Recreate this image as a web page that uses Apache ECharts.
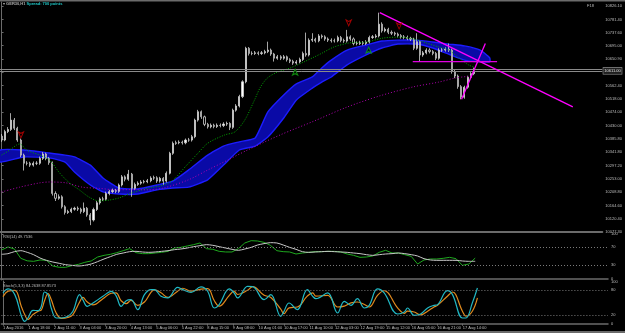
<!DOCTYPE html>
<html>
<head>
<meta charset="utf-8">
<script src="https://cdn.jsdelivr.net/npm/echarts@6/dist/echarts.min.js"></script>
<style>
html, body { margin: 0; padding: 0; background: #000; }
#chart { width: 625px; height: 333px; }
</style>
</head>
<body>
<div id="chart"></div>
<script>
// hourly bars, left to right
const opens = [
  10395, 10382, 10410, 10417, 10448, 10421, 10382, 10332, 10305, 10305,
  10299, 10305, 10305, 10321, 10336, 10321, 10307, 10205, 10189, 10194,
  10161, 10142, 10145, 10153, 10156, 10153, 10145, 10156, 10134, 10117,
  10152, 10174, 10187, 10186, 10205, 10211, 10215, 10212, 10233, 10260,
  10252, 10269, 10222, 10235, 10239, 10243, 10244, 10247, 10256, 10257,
  10246, 10255, 10246, 10272, 10338, 10371, 10373, 10375, 10373, 10382,
  10382, 10393, 10448, 10476, 10459, 10434, 10426, 10431, 10427, 10431,
  10430, 10435, 10437, 10424, 10481, 10495, 10526, 10575, 10686, 10669,
  10669, 10671, 10669, 10671, 10675, 10680, 10667, 10653, 10658, 10653,
  10658, 10648, 10643, 10637, 10641, 10649, 10669, 10664, 10713, 10716,
  10711, 10727, 10724, 10717, 10713, 10711, 10711, 10722, 10712, 10710,
  10724, 10717, 10702, 10702, 10705, 10702, 10707, 10722, 10724, 10727,
  10766, 10744, 10749, 10739, 10736, 10733, 10728, 10724, 10722, 10719,
  10716, 10686, 10708, 10664, 10671, 10680, 10675, 10669, 10653, 10680,
  10680, 10683, 10680, 10609, 10594, 10559, 10524, 10557, 10590, 10602
]
const closes = [
  10382, 10410, 10417, 10448, 10421, 10382, 10332, 10305, 10305, 10299,
  10305, 10305, 10321, 10336, 10321, 10307, 10205, 10189, 10194, 10161,
  10142, 10145, 10153, 10156, 10153, 10145, 10156, 10134, 10117, 10152,
  10174, 10187, 10186, 10205, 10211, 10215, 10212, 10233, 10260, 10252,
  10269, 10222, 10235, 10239, 10243, 10244, 10247, 10256, 10257, 10246,
  10255, 10246, 10272, 10338, 10371, 10373, 10375, 10373, 10382, 10382,
  10393, 10448, 10476, 10459, 10434, 10426, 10431, 10427, 10431, 10430,
  10435, 10437, 10424, 10481, 10495, 10526, 10575, 10686, 10669, 10669,
  10671, 10669, 10671, 10675, 10680, 10667, 10653, 10658, 10653, 10658,
  10648, 10643, 10637, 10641, 10649, 10669, 10664, 10713, 10716, 10711,
  10727, 10724, 10717, 10713, 10711, 10711, 10722, 10712, 10710, 10724,
  10717, 10702, 10702, 10705, 10702, 10707, 10722, 10724, 10727, 10766,
  10744, 10749, 10739, 10736, 10733, 10728, 10724, 10722, 10719, 10716,
  10686, 10708, 10664, 10671, 10680, 10675, 10669, 10653, 10680, 10680,
  10683, 10680, 10609, 10594, 10559, 10524, 10557, 10590, 10602, 10611
]
const highs = [
  10402, 10416, 10425, 10471, 10455, 10426, 10387, 10337, 10312, 10310,
  10311, 10312, 10327, 10342, 10340, 10326, 10311, 10212, 10202, 10199,
  10166, 10151, 10158, 10161, 10162, 10158, 10175, 10160, 10140, 10158,
  10180, 10192, 10194, 10211, 10217, 10221, 10220, 10238, 10266, 10265,
  10283, 10273, 10241, 10245, 10249, 10250, 10253, 10262, 10264, 10262,
  10260, 10259, 10278, 10343, 10377, 10380, 10381, 10380, 10387, 10389,
  10399, 10453, 10482, 10480, 10463, 10439, 10437, 10436, 10437, 10437,
  10441, 10443, 10441, 10486, 10501, 10532, 10580, 10691, 10690, 10676,
  10677, 10676, 10677, 10681, 10708, 10685, 10671, 10664, 10663, 10664,
  10662, 10653, 10648, 10647, 10655, 10675, 10738, 10719, 10736, 10721,
  10733, 10732, 10729, 10722, 10719, 10718, 10728, 10727, 10718, 10747,
  10729, 10722, 10709, 10711, 10710, 10713, 10728, 10730, 10733, 10804,
  10772, 10755, 10754, 10745, 10741, 10738, 10733, 10730, 10728, 10724,
  10721, 10736, 10713, 10677, 10686, 10686, 10680, 10674, 10686, 10687,
  10689, 10702, 10685, 10614, 10599, 10564, 10562, 10595, 10607, 10622
]
const lows = [
  10376, 10378, 10405, 10412, 10415, 10376, 10325, 10281, 10298, 10293,
  10294, 10299, 10300, 10316, 10315, 10300, 10198, 10180, 10184, 10155,
  10135, 10137, 10140, 10148, 10147, 10138, 10140, 10128, 10100, 10112,
  10147, 10168, 10180, 10181, 10199, 10206, 10206, 10207, 10228, 10245,
  10247, 10194, 10216, 10230, 10234, 10238, 10239, 10242, 10250, 10240,
  10241, 10233, 10241, 10268, 10333, 10366, 10368, 10367, 10368, 10376,
  10377, 10388, 10443, 10452, 10428, 10420, 10421, 10421, 10422, 10424,
  10425, 10429, 10415, 10419, 10476, 10490, 10521, 10570, 10662, 10663,
  10664, 10663, 10664, 10666, 10670, 10661, 10642, 10648, 10647, 10648,
  10642, 10637, 10631, 10632, 10636, 10644, 10658, 10659, 10707, 10705,
  10706, 10718, 10711, 10707, 10705, 10705, 10706, 10706, 10704, 10705,
  10711, 10696, 10696, 10697, 10696, 10697, 10702, 10717, 10719, 10722,
  10738, 10739, 10733, 10730, 10727, 10722, 10718, 10716, 10713, 10710,
  10680, 10681, 10642, 10658, 10666, 10669, 10663, 10647, 10648, 10674,
  10675, 10674, 10602, 10587, 10552, 10517, 10519, 10552, 10585, 10597
]

// moving averages (bar index, price)
const greenX = [0, 2.6, 4.8, 5.75, 7.9, 12, 15.1, 18.3, 21.4, 24.5, 27.6, 30.75, 33.9, 37, 41.1, 46.4, 51.1, 54.2, 57.9, 62, 65.1, 70.4, 73.6, 76.7, 79.8, 81.7, 83.9, 87, 91.1, 95.4, 98.6, 101.1, 104.8, 109.8, 115.1, 120.4, 125.4, 129.8, 133.9, 137.9, 141.1, 144.2, 147.3, 148.9]
const greenY = [10332, 10349, 10366, 10369, 10349, 10332, 10316, 10273, 10240, 10217, 10193, 10180, 10183, 10190, 10207, 10223, 10233, 10250, 10293, 10339, 10372, 10399, 10409, 10448, 10515, 10558, 10588, 10607, 10621, 10641, 10657, 10670, 10690, 10704, 10707, 10720, 10723, 10717, 10704, 10690, 10680, 10654, 10631, 10624]
const purpleX = [0, 5.75, 12, 15.1, 20.4, 25.4, 30.75, 36.1, 41.1, 46.4, 51.1, 58.9, 65.1, 71.4, 77.6, 87.9, 98.6, 108.9, 119.2, 129.8, 137.9, 143.3, 148.3]
const purpleY = [10210, 10226, 10240, 10243, 10240, 10226, 10222, 10217, 10218, 10217, 10223, 10250, 10283, 10316, 10349, 10399, 10445, 10491, 10528, 10558, 10574, 10588, 10594]

// blue ribbon, upper and lower edge
const bandX = [-0.5, 7, 15, 20, 23, 28, 32, 37, 43, 49, 54, 59, 65, 70, 75, 80, 84, 89, 93, 98, 101, 104, 109, 115, 120, 125, 131, 136, 141, 146, 151, 154]
const bandTop = [10349, 10349, 10339, 10332, 10326, 10299, 10256, 10223, 10220, 10233, 10246, 10283, 10332, 10362, 10376, 10389, 10475, 10531, 10568, 10591, 10621, 10647, 10680, 10697, 10710, 10713, 10713, 10707, 10700, 10694, 10680, 10654]
const bandBot = [10309, 10326, 10323, 10309, 10276, 10233, 10210, 10203, 10203, 10217, 10223, 10226, 10250, 10299, 10349, 10362, 10392, 10455, 10515, 10554, 10574, 10591, 10631, 10664, 10687, 10700, 10700, 10687, 10667, 10647, 10641, 10641]

// drawn objects
const trendDownX = [119.3, 180.2]
const trendDownY = [10804, 10492]
const trendUpX = [145.1, 152.6]
const trendUpY = [10517, 10702]
const levelX = [129.7, 156.3]
const levelY = [10642, 10642]
const bidPrice = 10611
const askPrice = 10618
const redArrowsX = [6.1, 109.5, 125.4]
const redArrowsY = [10389, 10760, 10750]
const greenArrowsX = [92.6, 115.8]
const greenArrowsY = [10617, 10690]

// RSI, one value every 2 bars
const rsiStep = 2
const rsiMain = [64, 70.7, 66.2, 45.5, 39.9, 38.8, 41.8, 41, 28.4, 25.5, 25.5, 29.2, 32.1, 36.6, 39.6, 48.4, 52.1, 54.4, 58.1, 62.5, 67, 58.1, 55.9, 55.9, 57.3, 58.8, 61, 68.4, 69.9, 72.9, 75.9, 79.6, 67, 65.5, 61, 59.6, 59.6, 67, 79.6, 84.7, 84, 81, 74.4, 62.5, 60.3, 59.6, 55.1, 57.3, 58.8, 60.3, 60.3, 61, 61, 59.6, 55.1, 52.1, 47.7, 48.4, 50.7, 58.8, 63.3, 57.3, 57.3, 53.6, 49.9, 32.9, 41.8, 44, 44, 45.5, 47.7, 44.7, 29.9, 32.9, 46]
const rsiAvg = [54.4, 55.9, 60.3, 62.5, 58.8, 53.6, 46.2, 41, 37.3, 34.4, 31.4, 29.9, 28.4, 29.9, 32.9, 38.1, 44, 49.2, 54.4, 57.3, 60.3, 61, 59.6, 58.8, 59.6, 61, 62.5, 64.7, 66.2, 68.4, 71.4, 73.6, 75.9, 74.4, 71.4, 68.4, 65.5, 63.3, 66.2, 69.9, 75.1, 78.1, 80.3, 79.6, 75.1, 69.9, 65.5, 60.3, 58.8, 59.6, 60.3, 61, 60.3, 59.6, 58.8, 57.3, 55.9, 53.6, 52.1, 53.6, 55.1, 55.9, 57.3, 55.9, 53.6, 50.7, 44.7, 41.8, 41, 41, 41, 41, 39.6, 38.8, 38.8]

// stochastic, at its turning points
const stochX = [0, 1.6, 3.7, 5.8, 6.8, 7.8, 9.4, 11, 12, 13, 14.1, 15.1, 16.7, 18.3, 20.3, 21.9, 24, 25, 26.4, 28.2, 31.3, 33.9, 35.4, 37, 38.6, 40.1, 42.2, 44.3, 46.4, 47.4, 49.5, 51.6, 54.7, 56.3, 58.9, 62, 64.1, 66.2, 67.7, 70.9, 72.4, 73.5, 76.6, 78.2, 81.8, 83.9, 87, 88, 89.6, 92.2, 95.3, 97, 98, 101.7, 104.8, 106.9, 109, 111, 113.2, 114.7, 117.3, 119.4, 123.6, 125.7, 126.7, 128.8, 130.8, 133, 135, 136.1, 139.2, 140.8, 143.9, 145, 147, 148.6]
const stochMain = [73.7, 83.3, 69.7, 17.7, 5.7, 13.7, 32, 31.3, 41.7, 76, 69.7, 37.7, 13.7, 13.7, 17.7, 29.7, 69.7, 57.7, 41.7, 49.7, 65.7, 77.7, 67.3, 41.7, 55.3, 57.7, 33.7, 69.7, 81.7, 81.7, 65.7, 61.7, 87.3, 81.7, 75.3, 88.1, 77.7, 37.7, 45.7, 83.3, 73.7, 61.7, 89.7, 88.9, 57.7, 69.7, 17.7, 29.7, 49.7, 33.7, 81.7, 65.7, 60.1, 73.7, 25.7, 53.7, 44.1, 60.1, 37.7, 44.1, 83.3, 73.7, 23.3, 28.1, 37.7, 20.1, 23.3, 37.7, 44.1, 45.7, 79.3, 69.7, 13.7, 13.7, 49.7, 85.7]
const stochSignal = [65, 78, 80, 40, 22, 10, 22, 30, 33, 55, 72, 58, 25, 13, 15, 22, 52, 63, 52, 45, 60, 73, 74, 55, 48, 56, 44, 52, 76, 81, 74, 63, 78, 85, 78, 83, 84, 55, 42, 68, 78, 70, 80, 89, 68, 63, 35, 24, 38, 40, 66, 74, 66, 68, 40, 42, 50, 52, 46, 40, 68, 79, 38, 25, 30, 28, 21, 30, 40, 44, 66, 76, 30, 18, 30, 62]

// axes
const slotCount = 190
const barsPerLabel = 8
const timeLabels = ['1 Aug 2016', '1 Aug 18:00', '2 Aug 11:00', '3 Aug 04:00', '3 Aug 20:00', '4 Aug 13:00', '5 Aug 06:00', '5 Aug 22:00', '8 Aug 15:00', '9 Aug 08:00', '10 Aug 01:00', '10 Aug 17:00', '11 Aug 10:00', '12 Aug 03:00', '12 Aug 19:00', '15 Aug 12:00', '16 Aug 05:00', '16 Aug 21:00', '17 Aug 14:00']
const priceTicks = [10826.10, 10781.40, 10737.60, 10695.00, 10650.90, 10606.40, 10562.40, 10518.00, 10474.00, 10430.00, 10385.80, 10341.80, 10297.20, 10253.00, 10208.80, 10164.60, 10120.40, 10077.30]
const rsiTicks = [100, 70, 30, 0]
const rsiLevels = [70, 30]
const stochTicks = [100, 80, 20, 0]
const stochLevels = [80, 20]

const FONT = 'Liberation Sans, DejaVu Sans, sans-serif'
const GRAY = '#6b6b6b'
const TXT = '#bdbdbd'

const slots = Array.from({ length: slotCount }, () => '')
const candles = opens.map((o, i) => [o, closes[i], lows[i], highs[i]])
const pairs = (xs, ys) => xs.map((x, i) => [x, ys[i]])
const labelIdx = timeLabels.map((_, k) => k * barsPerLabel)

const levelLines = (vals) => ({
  silent: true,
  symbol: 'none',
  label: { show: false },
  lineStyle: { color: '#7a7a7a', type: [1, 2], width: 1 },
  data: vals.map(v => ({ yAxis: v }))
})

const chart = echarts.init(document.getElementById('chart'))

chart.setOption({
  backgroundColor: '#000000',
  animation: false,
  title: [
    {
      text: '{a|▾ GER30,H1} {b|Spread: 700 points}',
      left: 3, top: 2, padding: 0,
      textStyle: {
        fontSize: 4,
        rich: {
          a: { color: '#b0b0b0', fontSize: 4, fontFamily: FONT },
          b: { color: '#1fc8c8', fontSize: 4, fontFamily: FONT }
        }
      }
    },
    { text: 'F18', left: 587, top: 4, padding: 0, textStyle: { color: TXT, fontSize: 4, fontWeight: 'normal', fontFamily: FONT } },
    { text: 'RSI(14) 49.7536', left: 3, top: 235, padding: 0, textStyle: { color: TXT, fontSize: 4, fontWeight: 'normal', fontFamily: FONT } },
    { text: 'Stoch(5,3,3) 84.2638 87.8573', left: 3, top: 284, padding: 0, textStyle: { color: TXT, fontSize: 4, fontWeight: 'normal', fontFamily: FONT } }
  ],
  graphic: [
    { type: 'rect', left: 0, top: 0, shape: { width: 625, height: 1.5 }, style: { fill: GRAY }, silent: true },
    { type: 'rect', left: 0, top: 331, shape: { width: 625, height: 2 }, style: { fill: GRAY }, silent: true }
  ],
  grid: [
    { left: 0, right: 17, top: 2, height: 230 },
    { left: 0, right: 17, top: 232.5, height: 47.5 },
    { left: 0, right: 17, top: 281, height: 43.5 }
  ],
  xAxis: [
    {
      type: 'category', gridIndex: 0, data: slots, boundaryGap: true,
      axisLine: { lineStyle: { color: GRAY, width: 2 } },
      axisTick: { show: false }, axisLabel: { show: false }, splitLine: { show: false }
    },
    { type: 'value', gridIndex: 0, min: -0.5, max: slotCount - 0.5, show: false },
    {
      type: 'value', gridIndex: 1, min: -0.5, max: slotCount - 0.5,
      axisLine: { lineStyle: { color: GRAY, width: 1.5 } },
      axisTick: { show: false }, axisLabel: { show: false }, splitLine: { show: false }
    },
    {
      type: 'value', gridIndex: 2, min: -0.5, max: slotCount - 0.5,
      axisLine: { lineStyle: { color: GRAY, width: 1.5 } },
      axisTick: { customValues: labelIdx, length: 2, lineStyle: { color: GRAY } },
      axisLabel: {
        customValues: labelIdx,
        formatter: v => timeLabels[Math.round(v / barsPerLabel)] || '',
        align: 'left', margin: 1.5, color: TXT, fontSize: 4, fontFamily: FONT
      },
      splitLine: { show: false }
    }
  ],
  yAxis: [
    {
      type: 'value', gridIndex: 0, position: 'right', min: 10077.3, max: 10839.4, scale: true,
      axisLine: { show: true, lineStyle: { color: GRAY, width: 1 } },
      axisTick: { show: true, customValues: priceTicks, length: 2, lineStyle: { color: GRAY } },
      axisLabel: { customValues: priceTicks, formatter: v => v.toFixed(2), margin: 3, color: TXT, fontSize: 4, fontFamily: FONT },
      splitLine: { show: false }
    },
    {
      type: 'value', gridIndex: 1, position: 'right', min: -2.7, max: 102.9,
      axisLine: { show: true, lineStyle: { color: GRAY, width: 1 } },
      axisTick: { show: true, customValues: rsiTicks, length: 2, lineStyle: { color: GRAY } },
      axisLabel: { customValues: rsiTicks, margin: 3, color: TXT, fontSize: 4, fontFamily: FONT },
      splitLine: { show: false }
    },
    {
      type: 'value', gridIndex: 2, position: 'right', min: -1.9, max: 102.4,
      axisLine: { show: true, lineStyle: { color: GRAY, width: 1 } },
      axisTick: { show: true, customValues: stochTicks, length: 2, lineStyle: { color: GRAY } },
      axisLabel: { customValues: stochTicks, margin: 3, color: TXT, fontSize: 4, fontFamily: FONT },
      splitLine: { show: false }
    }
  ],
  series: [
    {
      name: 'ribbon', type: 'custom', xAxisIndex: 1, yAxisIndex: 0, z: 1, silent: true,
      data: [[bandX[0], bandTop[0]]],
      renderItem: function (params, api) {
        const pts = []
        for (let i = 0; i < bandX.length; i++) pts.push(api.coord([bandX[i], bandTop[i]]))
        for (let i = bandX.length - 1; i >= 0; i--) pts.push(api.coord([bandX[i], bandBot[i]]))
        return {
          type: 'polygon',
          shape: { points: pts, smooth: 0.15 },
          style: { fill: '#0a0aa6', stroke: '#1c1cff', lineWidth: 1.4 }
        }
      }
    },
    {
      name: 'price', type: 'candlestick', xAxisIndex: 0, yAxisIndex: 0, z: 3,
      data: candles, barWidth: 1.6,
      itemStyle: { color: '#ffffff', color0: '#000000', borderColor: '#cfcfcf', borderColor0: '#cfcfcf', borderWidth: 0.8 },
      markLine: {
        silent: true, symbol: 'none',
        lineStyle: { color: '#8a8a8a', type: 'solid', width: 1 },
        data: [
          { yAxis: bidPrice, label: { show: true, position: 'end', distance: 1, formatter: p => p.value.toFixed(2), color: '#e0e0e0', backgroundColor: '#202020', borderColor: '#9a9a9a', borderWidth: 0.6, padding: [1, 1], fontSize: 4, fontFamily: FONT } },
          { yAxis: askPrice, label: { show: false } }
        ]
      }
    },
    {
      name: 'ma green', type: 'line', xAxisIndex: 1, yAxisIndex: 0, z: 4,
      data: pairs(greenX, greenY), smooth: 0.3, showSymbol: false, silent: true,
      lineStyle: { color: '#00a800', width: 1, type: [1, 1.5] }
    },
    {
      name: 'ma purple', type: 'line', xAxisIndex: 1, yAxisIndex: 0, z: 4,
      data: pairs(purpleX, purpleY), smooth: 0.3, showSymbol: false, silent: true,
      lineStyle: { color: '#b000b0', width: 1, type: [1, 2] }
    },
    {
      name: 'trend down', type: 'line', xAxisIndex: 1, yAxisIndex: 0, z: 5,
      data: pairs(trendDownX, trendDownY), showSymbol: false, silent: true,
      lineStyle: { color: '#ff00ff', width: 1.3 }
    },
    {
      name: 'trend up', type: 'line', xAxisIndex: 1, yAxisIndex: 0, z: 5,
      data: pairs(trendUpX, trendUpY), showSymbol: false, silent: true,
      lineStyle: { color: '#ff00ff', width: 1.3 }
    },
    {
      name: 'level', type: 'line', xAxisIndex: 1, yAxisIndex: 0, z: 5,
      data: pairs(levelX, levelY), showSymbol: false, silent: true,
      lineStyle: { color: '#e000e0', width: 1.3 }
    },
    {
      name: 'down arrows', type: 'scatter', xAxisIndex: 1, yAxisIndex: 0, z: 6,
      data: pairs(redArrowsX, redArrowsY), silent: true,
      symbol: 'arrow', symbolRotate: 180, symbolSize: [4, 6],
      itemStyle: { color: '#000000', borderColor: '#d00000', borderWidth: 1 }
    },
    {
      name: 'up arrows', type: 'scatter', xAxisIndex: 1, yAxisIndex: 0, z: 6,
      data: pairs(greenArrowsX, greenArrowsY), silent: true,
      symbol: 'arrow', symbolSize: [4, 6],
      itemStyle: { color: '#000000', borderColor: '#10b010', borderWidth: 1 }
    },
    {
      name: 'RSI', type: 'line', xAxisIndex: 2, yAxisIndex: 1,
      data: rsiMain.map((v, j) => [j * rsiStep, v]), showSymbol: false, silent: true,
      lineStyle: { color: '#1ea81e', width: 1 },
      markLine: levelLines(rsiLevels)
    },
    {
      name: 'RSI avg', type: 'line', xAxisIndex: 2, yAxisIndex: 1,
      data: rsiAvg.map((v, j) => [j * rsiStep, v]), smooth: 0.3, showSymbol: false, silent: true,
      lineStyle: { color: '#c8c8c8', width: 1 }
    },
    {
      name: 'Stoch signal', type: 'line', xAxisIndex: 3, yAxisIndex: 2,
      data: pairs(stochX, stochSignal), smooth: 0.4, showSymbol: false, silent: true,
      lineStyle: { color: '#e08a1e', width: 1.2 },
      markLine: levelLines(stochLevels)
    },
    {
      name: 'Stoch main', type: 'line', xAxisIndex: 3, yAxisIndex: 2,
      data: pairs(stochX, stochMain), smooth: 0.4, showSymbol: false, silent: true,
      lineStyle: { color: '#20b8c4', width: 1.2 }
    }
  ]
})
</script>
</body>
</html>
